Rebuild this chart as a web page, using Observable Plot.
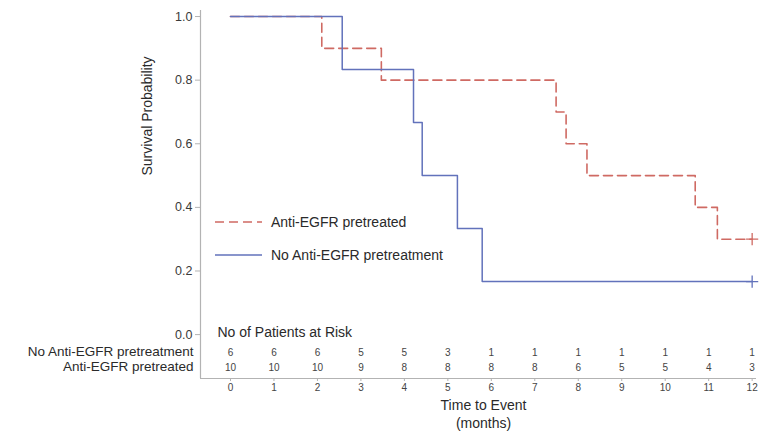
<!DOCTYPE html>
<html>
<head>
<meta charset="utf-8">
<script src="https://cdn.jsdelivr.net/npm/d3@7"></script>
<script src="https://cdn.jsdelivr.net/npm/@observablehq/plot@0.6"></script>
<style>
  html, body { margin: 0; padding: 0; background: #fff; }
  #wrap { position: relative; width: 760px; height: 443px; font-family: "Liberation Sans", Arial, sans-serif; }
  #legend { position: absolute; left: 0; top: 0; pointer-events: none; }
</style>
</head>
<body>
<div id="wrap"></div>
<script>
// Kaplan-Meier step data (time in months, survival probability)
const preTimes = [0, 2.1, 3.47, 7.49, 7.72, 8.2, 10.69, 11.2, 12];
const preSurv  = [1, 0.9, 0.8, 0.7, 0.6, 0.5, 0.4, 0.3, 0.3];
const noTimes  = [0, 2.57, 4.21, 4.41, 5.22, 5.79, 12];
const noSurv   = [1, 0.8333, 0.6667, 0.5, 0.3333, 0.1667, 0.1667];
// censored observations
const censorTime = [12, 12];
const censorSurv = [0.3, 0.1667];
const censorGroup = ["Anti-EGFR pretreated", "No Anti-EGFR pretreatment"];
// patients at risk
const riskMonths = [0,1,2,3,4,5,6,7,8,9,10,11,12];
const riskNoPre  = [6,6,6,5,5,3,1,1,1,1,1,1,1];
const riskPre    = [10,10,10,9,8,8,8,8,6,5,5,4,3];
const groupNames = ["Anti-EGFR pretreated", "No Anti-EGFR pretreatment"];
const yTicks = [0, 0.2, 0.4, 0.6, 0.8, 1.0];

const RED = "#cf6a63", BLUE = "#6272bb", AX = "#b3b3b3", TXT = "#2a2a2a";
const xDomain = [-0.69, 12.1];
const yDomain = [-0.138, 1.019];

const preData = preTimes.map((t, i) => ({t, s: preSurv[i]}));
const noData = noTimes.map((t, i) => ({t, s: noSurv[i]}));
const censor = censorTime.map((t, i) => ({t, s: censorSurv[i], g: censorGroup[i]}));
const riskRow1 = riskMonths.map((m, i) => ({m, n: riskNoPre[i]}));
const riskRow2 = riskMonths.map((m, i) => ({m, n: riskPre[i]}));

const chart = Plot.plot({
  width: 760,
  height: 443,
  marginLeft: 200,
  marginRight: 4,
  marginTop: 10,
  marginBottom: 65,
  style: {fontFamily: "'Liberation Sans', Arial, sans-serif", color: TXT, background: "#fff"},
  x: {domain: xDomain, label: null},
  y: {domain: yDomain, label: null},
  marks: [
    Plot.axisX({ticks: riskMonths, tickFormat: d => d, tickSize: 3, tickPadding: 2, stroke: AX, fill: "#444", fontSize: 10, label: null}),
    Plot.axisY({ticks: yTicks, tickFormat: d3.format(".1f"), tickSize: 5, tickPadding: 3, stroke: AX, fill: "#3a3a3a", fontSize: 12.5, label: null}),
    Plot.ruleX([0], {x: () => xDomain[0], stroke: AX, strokeWidth: 1.2}),
    Plot.ruleY([0], {y: () => yDomain[0], stroke: AX, strokeWidth: 1.2}),
    Plot.line(preData, {x: "t", y: "s", curve: "step-after", stroke: RED, strokeWidth: 1.6, strokeDasharray: "9,5"}),
    Plot.line(noData, {x: "t", y: "s", curve: "step-after", stroke: BLUE, strokeWidth: 1.5}),
    Plot.dot(censor, {x: "t", y: "s", symbol: "plus", r: 4, stroke: d => d.g === groupNames[0] ? RED : BLUE, strokeWidth: 1.3}),
    // risk table
    Plot.text(["No of Patients at Risk"], {frameAnchor: "bottom-left", dx: 17, dy: -42, textAnchor: "start", fontSize: 14, fill: TXT}),
    Plot.text(riskRow1, {x: "m", text: "n", frameAnchor: "bottom", dy: -23, fontSize: 10, fill: "#444"}),
    Plot.text(riskRow2, {x: "m", text: "n", frameAnchor: "bottom", dy: -8, fontSize: 10, fill: "#444"}),
    Plot.text([groupNames[1]], {frameAnchor: "bottom-left", dx: -7, dy: -23, textAnchor: "end", fontSize: 13.5, fill: TXT}),
    Plot.text([groupNames[0]], {frameAnchor: "bottom-left", dx: -7, dy: -8, textAnchor: "end", fontSize: 13.5, fill: TXT}),
    // axis titles
    Plot.text(["Time to Event"], {frameAnchor: "bottom", dx: 5, dy: 31, fontSize: 14, fill: TXT}),
    Plot.text(["(months)"], {frameAnchor: "bottom", dx: 5, dy: 49, fontSize: 14, fill: TXT}),
    Plot.text(["Survival Probability"], {frameAnchor: "left", dx: -53, dy: -19, rotate: -90, fontSize: 14, fill: TXT})
  ]
});
document.getElementById("wrap").appendChild(chart);

// legend overlay
const ns = "http://www.w3.org/2000/svg";
const leg = document.createElementNS(ns, "svg");
leg.setAttribute("id", "legend");
leg.setAttribute("width", 760);
leg.setAttribute("height", 443);
const items = [
  {name: groupNames[0], color: RED, dash: "9,5", y: 222},
  {name: groupNames[1], color: BLUE, dash: null, y: 255}
];
items.forEach(it => {
  const l = document.createElementNS(ns, "line");
  l.setAttribute("x1", 215); l.setAttribute("x2", 262);
  l.setAttribute("y1", it.y); l.setAttribute("y2", it.y);
  l.setAttribute("stroke", it.color); l.setAttribute("stroke-width", 1.5);
  if (it.dash) l.setAttribute("stroke-dasharray", it.dash);
  leg.appendChild(l);
  const t = document.createElementNS(ns, "text");
  t.setAttribute("x", 271); t.setAttribute("y", it.y);
  t.setAttribute("dy", "0.35em");
  t.setAttribute("font-size", 14);
  t.setAttribute("fill", TXT);
  t.setAttribute("font-family", "'Liberation Sans', Arial, sans-serif");
  t.textContent = it.name;
  leg.appendChild(t);
});
document.getElementById("wrap").appendChild(leg);
</script>
</body>
</html>
